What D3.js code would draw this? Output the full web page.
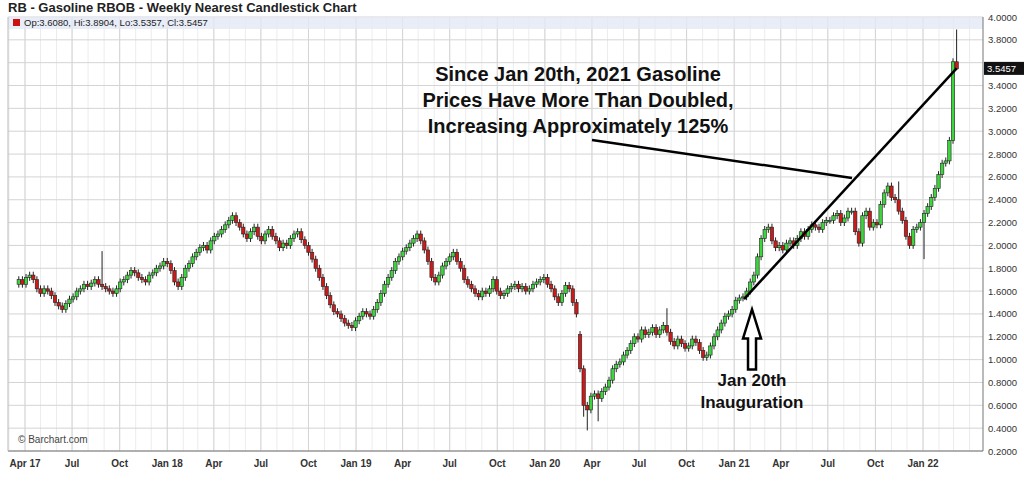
<!DOCTYPE html>
<html><head><meta charset="utf-8">
<script src="https://cdn.jsdelivr.net/npm/d3@7"></script>
<style>body{margin:0;background:#fff}svg{display:block;font-family:"Liberation Sans",Arial,sans-serif}</style>
</head><body><svg id="c" width="1024" height="488"></svg>
<script>
const startWeek = "2017-03-20";
const closes = [
1.70,1.66,1.72,
1.74,1.70,1.62,1.58,1.62,1.60,1.56,1.50,1.47,1.44,1.49,1.53,1.55,
1.60,1.62,1.66,1.64,1.67,1.70,1.66,1.64,1.62,1.60,1.58,1.62,1.68,
1.70,1.74,1.78,1.76,1.72,1.70,1.68,1.74,1.76,1.80,1.82,1.86,1.84,
1.78,1.68,1.64,1.72,1.80,1.84,1.90,1.94,1.98,2.00,1.96,2.04,2.08,
2.10,2.14,2.18,2.22,2.26,2.20,2.16,2.10,2.06,2.12,2.16,2.08,2.04,
2.10,2.14,2.08,2.04,1.98,2.02,2.00,2.06,2.10,2.12,2.05,2.00,1.94,
1.88,1.80,1.72,1.64,1.56,1.48,1.42,1.40,1.36,1.32,1.30,1.28,1.34,
1.38,1.42,1.40,1.38,1.44,1.50,1.58,1.66,1.72,1.78,1.86,1.90,1.95,
1.98,2.02,2.06,2.10,2.04,1.96,1.86,1.72,1.68,1.74,1.82,1.86,1.90,
1.94,1.86,1.80,1.70,1.66,1.62,1.58,1.55,1.60,1.58,1.62,1.70,1.60,
1.56,1.58,1.62,1.64,1.66,1.62,1.64,1.60,1.62,1.66,1.68,1.70,1.72,
1.66,1.62,1.55,1.50,1.58,1.65,1.62,1.50,1.40,0.92,0.60,0.56,0.68,
0.70,0.66,0.72,0.76,0.82,0.92,0.96,0.98,1.04,1.08,1.14,1.20,1.18,
1.26,1.22,1.24,1.28,1.22,1.26,1.30,1.24,1.16,1.12,1.18,1.14,1.10,
1.12,1.18,1.15,1.08,1.02,1.04,1.12,1.20,1.26,1.32,1.38,1.40,1.44,
1.52,1.54,1.55,1.60,1.68,1.74,1.90,2.06,2.14,2.16,2.04,1.98,2.00,
1.96,2.02,2.04,2.00,2.06,2.12,2.08,2.14,2.18,2.16,2.14,2.20,2.22,
2.22,2.26,2.28,2.20,2.24,2.30,2.30,2.12,2.02,2.26,2.30,2.16,2.20,
2.18,2.36,2.46,2.52,2.42,2.40,2.30,2.22,2.08,2.00,2.14,2.16,2.20,
2.28,2.34,2.42,2.50,2.62,2.72,2.74,2.92,3.608,3.5457];
const openOverrides = {0:1.66, 155:1.22, 259:3.608};
const highOverrides = {23:1.95, 179:1.45, 243:2.56, 259:3.8904};
const lowOverrides = {157:0.38, 160:0.46, 250:1.88, 259:3.5357, 156:0.50};
const yTicks = [0.2,0.4,0.6,0.8,1.0,1.2,1.4,1.6,1.8,2.0,2.2,2.4,2.6,2.8,3.0,3.2,3.4,3.6,3.8,4.0];
const xTicks = [["2017-04-01","Apr 17"],["2017-07-01","Jul"],["2017-10-01","Oct"],["2018-01-01","Jan 18"],["2018-04-01","Apr"],["2018-07-01","Jul"],["2018-10-01","Oct"],["2019-01-01","Jan 19"],["2019-04-01","Apr"],["2019-07-01","Jul"],["2019-10-01","Oct"],["2020-01-01","Jan 20"],["2020-04-01","Apr"],["2020-07-01","Jul"],["2020-10-01","Oct"],["2021-01-01","Jan 21"],["2021-04-01","Apr"],["2021-07-01","Jul"],["2021-10-01","Oct"],["2022-01-01","Jan 22"]];
const title = "RB - Gasoline RBOB - Weekly Nearest Candlestick Chart";
const info = "Op:3.6080, Hi:3.8904, Lo:3.5357, Cl:3.5457";
const noteLines = ["Since Jan 20th, 2021 Gasoline","Prices Have More Than Doubled,","Increasing Approximately 125%"];

const parse = d3.utcParse("%Y-%m-%d");
const t0 = parse(startWeek);
const data = closes.map((c,i)=>{
  const o = openOverrides[i] ?? closes[i-1];
  return {d:d3.utcWeek.offset(t0,i), o, c,
    h: highOverrides[i] ?? Math.max(o,c)+0.03,
    l: lowOverrides[i] ?? Math.min(o,c)-0.03};
});
const svg = d3.select("#c");
const L=8, R=983, T=17, B=451;
const x = d3.scaleUtc().domain([parse("2017-04-01"), parse("2022-01-01")]).range([25,923]);
const y = d3.scaleLinear().domain([0.2,4.0]).range([B,T]);
const last = data[data.length-1];

svg.append("text").attr("x",8).attr("y",12).attr("font-size",13).attr("font-weight","bold").attr("fill","#222").text(title);
const minor = d3.utcMonth.range(x.invert(L), x.invert(R)).filter(d=>x(d)>L);
svg.append("g").selectAll("line").data(minor).join("line")
  .attr("x1",d=>x(d)).attr("x2",d=>x(d)).attr("y1",T).attr("y2",B).attr("stroke","#ececec");
svg.append("g").selectAll("line").data(xTicks).join("line")
  .attr("x1",d=>x(parse(d[0]))).attr("x2",d=>x(parse(d[0]))).attr("y1",T).attr("y2",B).attr("stroke","#d4d4d4");
svg.append("g").selectAll("line").data(yTicks).join("line")
  .attr("x1",L).attr("x2",R).attr("y1",d=>y(d)).attr("y2",d=>y(d)).attr("stroke","#d4d4d4");
svg.append("rect").attr("x",L).attr("y",T).attr("width",R-L).attr("height",12).attr("fill","#e4e8f6").attr("opacity",0.8);
svg.append("rect").attr("x",13).attr("y",19).attr("width",7).attr("height",7).attr("fill","#cc1111");
svg.append("text").attr("x",24).attr("y",26).attr("font-size",9.5).attr("fill","#222").text(info);
svg.append("line").attr("x1",L).attr("x2",R).attr("y1",B).attr("y2",B).attr("stroke","#777");
svg.append("line").attr("x1",R).attr("x2",R).attr("y1",T).attr("y2",B).attr("stroke","#777");
svg.append("line").attr("x1",L).attr("x2",L).attr("y1",T).attr("y2",B).attr("stroke","#bbb");
svg.append("g").selectAll("text").data(yTicks.filter(d=>Math.abs(y(d)-y(last.c))>10)).join("text")
  .attr("x",R+5).attr("y",d=>y(d)+3.5).attr("font-size",9.5).attr("fill","#333").text(d=>d.toFixed(4));
svg.append("g").selectAll("text").data(xTicks).join("text")
  .attr("x",d=>x(parse(d[0]))).attr("y",467).attr("text-anchor","middle").attr("font-size",10).attr("font-weight","bold").attr("fill","#333").text(d=>d[1]);
svg.append("text").attr("x",18).attr("y",443).attr("font-size",10).attr("fill","#444").text("© Barchart.com");
const bw=3.4;
const g = svg.append("g");
g.selectAll("line").data(data).join("line")
  .attr("x1",d=>x(d.d)).attr("x2",d=>x(d.d)).attr("y1",d=>y(d.h)).attr("y2",d=>y(d.l)).attr("stroke","#222").attr("stroke-width",1);
g.selectAll("rect").data(data).join("rect")
  .attr("x",d=>x(d.d)-bw/2).attr("width",bw)
  .attr("y",d=>y(Math.max(d.o,d.c))).attr("height",d=>Math.max(1,Math.abs(y(d.o)-y(d.c))))
  .attr("fill",d=>d.c>=d.o?"#3ed43e":"#cc1a1a").attr("stroke","#222").attr("stroke-width",0.6);
svg.append("rect").attr("x",R+1).attr("y",y(last.c)-7).attr("width",40).attr("height",13).attr("fill","#111");
svg.append("text").attr("x",R+4).attr("y",y(last.c)+3.5).attr("font-size",9.5).attr("fill","#fff").text(last.c.toFixed(4));
const inaug = parse("2021-01-20");
svg.append("line").attr("x1",x(inaug)).attr("y1",y(1.53)).attr("x2",x(last.d)).attr("y2",y(3.55)).attr("stroke","#000").attr("stroke-width",2.5);
svg.append("line").attr("x1",592).attr("y1",140).attr("x2",852).attr("y2",178).attr("stroke","#000").attr("stroke-width",2.5);
svg.append("g").selectAll("text").data(noteLines).join("text")
  .attr("x",578).attr("y",(d,i)=>81+i*26).attr("text-anchor","middle").attr("font-size",20).attr("font-weight","bold")
  .attr("font-family","'Liberation Sans Narrow','Liberation Sans',Arial").attr("fill","#111").text(d=>d);
const ax = x(inaug)+8, ay = y(1.44);
svg.append("path").attr("d",`M${ax},${ay} L${ax+9},${ay+29} L${ax+4},${ay+29} L${ax+4},${ay+60} L${ax-4},${ay+60} L${ax-4},${ay+29} L${ax-9},${ay+29} Z`)
  .attr("fill","#fff").attr("stroke","#000").attr("stroke-width",2.5);
svg.append("g").selectAll("text").data(["Jan 20th","Inauguration"]).join("text")
  .attr("x",752).attr("y",(d,i)=>386+i*22).attr("text-anchor","middle").attr("font-size",17).attr("font-weight","bold").attr("fill","#111").text(d=>d);
</script></body></html>
